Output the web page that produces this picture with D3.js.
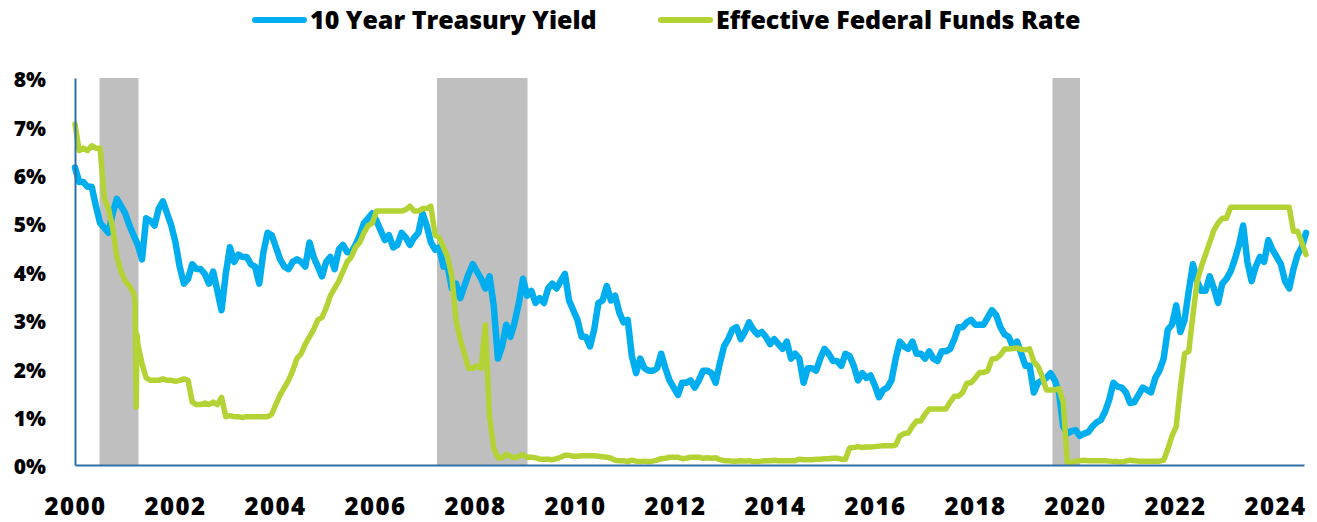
<!DOCTYPE html>
<html>
<head>
<meta charset="utf-8">
<script src="https://cdn.jsdelivr.net/npm/d3@7"></script>
<style>
  body { margin: 0; background: #fff; }
  text { font-family: "Open Sans", Lato, "DejaVu Sans", sans-serif; }
</style>
</head>
<body>
<div id="chart"></div>
<script>
// tick labels
const yearTicks = [2000, 2002, 2004, 2006, 2008, 2010, 2012, 2014, 2016, 2018, 2020, 2022, 2024];
const pctTicks = [0, 1, 2, 3, 4, 5, 6, 7, 8];

const seriesNames = ['10 Year Treasury Yield', 'Effective Federal Funds Rate'];

// monthly readings, one row per axis year (first row starts half way through 2000)
const treasury10y = [
  6.15, 5.85, 5.85, 5.75, 5.75, 5.35,
  5.0, 4.9, 4.8, 5.2, 5.5, 5.35, 5.2, 4.95, 4.75, 4.55, 4.25, 5.1,
  5.05, 4.95, 5.3, 5.45, 5.2, 4.95, 4.6, 4.1, 3.75, 3.85, 4.15, 4.05,
  4.05, 3.95, 3.75, 4.0, 3.6, 3.2, 3.95, 4.5, 4.2, 4.35, 4.3, 4.3,
  4.15, 4.1, 3.75, 4.4, 4.8, 4.75, 4.5, 4.25, 4.1, 4.05, 4.2, 4.25,
  4.2, 4.1, 4.6, 4.3, 4.1, 3.9, 4.2, 4.3, 4.05, 4.45, 4.55, 4.4,
  4.4, 4.55, 4.75, 5.0, 5.1, 5.2, 5.05, 4.85, 4.65, 4.75, 4.5, 4.55,
  4.8, 4.7, 4.55, 4.7, 4.8, 5.2, 4.95, 4.6, 4.45, 4.5, 4.1, 4.1,
  3.65, 3.75, 3.45, 3.7, 3.95, 4.15, 4.0, 3.85, 3.65, 3.9, 3.3, 2.2,
  2.45, 2.9, 2.65, 2.95, 3.35, 3.85, 3.5, 3.6, 3.35, 3.45, 3.35, 3.65,
  3.75, 3.65, 3.8, 3.95, 3.4, 3.2, 3.0, 2.65, 2.65, 2.45, 2.8, 3.35,
  3.4, 3.7, 3.4, 3.5, 3.15, 2.95, 3.0, 2.25, 1.9, 2.2, 2.0, 1.95,
  1.95, 2.0, 2.3, 2.0, 1.75, 1.6, 1.45, 1.7, 1.7, 1.75, 1.6, 1.75,
  1.95, 1.95, 1.9, 1.7, 2.1, 2.45, 2.6, 2.8, 2.85, 2.6, 2.75, 2.95,
  2.8, 2.7, 2.75, 2.65, 2.5, 2.6, 2.5, 2.4, 2.55, 2.2, 2.3, 2.2,
  1.7, 2.0, 2.0, 1.95, 2.2, 2.4, 2.3, 2.15, 2.15, 2.05, 2.3, 2.25,
  2.05, 1.75, 1.9, 1.8, 1.85, 1.65, 1.4, 1.55, 1.6, 1.75, 2.2, 2.55,
  2.45, 2.4, 2.55, 2.3, 2.3, 2.2, 2.35, 2.2, 2.15, 2.35, 2.35, 2.4,
  2.6, 2.85, 2.85, 2.95, 3.0, 2.9, 2.9, 2.9, 3.05, 3.2, 3.1, 2.85,
  2.7, 2.65, 2.45, 2.55, 2.3, 2.05, 2.05, 1.5, 1.7, 1.75, 1.8, 1.9,
  1.75, 1.5, 0.8, 0.65, 0.7, 0.72, 0.6, 0.65, 0.68, 0.8, 0.88, 0.93,
  1.1, 1.35, 1.7, 1.62, 1.6, 1.5, 1.28, 1.3, 1.45, 1.6, 1.55, 1.5,
  1.8, 1.95, 2.2, 2.8, 2.9, 3.3, 2.75, 3.0, 3.6, 4.15, 3.8, 3.6,
  3.6, 3.9, 3.65, 3.35, 3.75, 3.85, 4.0, 4.25, 4.55, 4.95, 4.2, 3.8,
  4.1, 4.3, 4.2, 4.65, 4.45, 4.3, 4.15, 3.8, 3.65, 4.05, 4.35, 4.5,
  4.8
];

const fedFunds = [
  7.05, 6.5, 6.55, 6.5, 6.6, 6.55,
  6.55, 5.5, 5.3, 4.9, 4.3, 4.0, 3.8, 3.7, 3.55, 2.5, 2.1, 1.8,
  1.75, 1.75, 1.75, 1.78, 1.75, 1.75, 1.73, 1.75, 1.78, 1.75, 1.3, 1.25,
  1.25, 1.28, 1.25, 1.3, 1.25, 1.4, 1.0, 1.02, 1.0, 1.0, 0.98, 1.0,
  1.0, 1.0, 1.0, 1.0, 1.0, 1.05, 1.26, 1.45, 1.6, 1.75, 1.95, 2.2,
  2.3, 2.5, 2.65, 2.8, 3.0, 3.05, 3.25, 3.5, 3.65, 3.8, 4.0, 4.2,
  4.3, 4.5, 4.6, 4.8, 4.95, 5.0, 5.25, 5.25, 5.25, 5.25, 5.25, 5.25,
  5.25, 5.28, 5.35, 5.25, 5.25, 5.3, 5.3, 5.35, 4.75, 4.7, 4.5, 4.3,
  3.9, 3.0, 2.6, 2.3, 2.0, 2.0, 2.05, 2.0, 2.9, 1.0, 0.35, 0.15,
  0.15, 0.22, 0.18, 0.15, 0.18, 0.21, 0.16, 0.16, 0.15, 0.12, 0.12, 0.12,
  0.11, 0.13, 0.16, 0.2, 0.2, 0.18, 0.18, 0.19, 0.19, 0.19, 0.19, 0.18,
  0.17, 0.16, 0.14, 0.1, 0.09, 0.09, 0.07, 0.1, 0.08, 0.07, 0.08, 0.07,
  0.08, 0.1, 0.13, 0.14, 0.16, 0.16, 0.16, 0.13, 0.14, 0.16, 0.16, 0.16,
  0.14, 0.15, 0.14, 0.15, 0.11, 0.09, 0.09, 0.08, 0.08, 0.09, 0.08, 0.09,
  0.07, 0.07, 0.08, 0.09, 0.09, 0.1, 0.09, 0.09, 0.09, 0.09, 0.09, 0.12,
  0.11, 0.11, 0.11, 0.12, 0.12, 0.13, 0.13, 0.14, 0.14, 0.12, 0.12, 0.35,
  0.36, 0.38, 0.36, 0.37, 0.37, 0.38, 0.39, 0.4, 0.4, 0.4, 0.41, 0.6,
  0.65, 0.66, 0.8, 0.91, 0.91, 1.05, 1.16, 1.16, 1.16, 1.16, 1.16, 1.3,
  1.42, 1.42, 1.5, 1.69, 1.7, 1.8, 1.91, 1.91, 1.95, 2.19, 2.2, 2.27,
  2.4, 2.4, 2.41, 2.42, 2.39, 2.38, 2.4, 2.13, 2.04, 1.83, 1.55, 1.55,
  1.55, 1.58, 1.3, 0.05, 0.05, 0.08, 0.09, 0.1, 0.09, 0.09, 0.09, 0.09,
  0.09, 0.08, 0.07, 0.07, 0.06, 0.08, 0.1, 0.09, 0.08, 0.08, 0.08, 0.08,
  0.08, 0.08, 0.1, 0.33, 0.6, 0.8, 1.6, 2.3, 2.35, 3.1, 3.8, 4.1,
  4.35, 4.6, 4.85, 5.0, 5.1, 5.1, 5.33, 5.33, 5.33, 5.33, 5.33, 5.33,
  5.33, 5.33, 5.33, 5.33, 5.33, 5.33, 5.33, 5.33, 5.33, 4.83, 4.83, 4.6,
  4.35
];

// short daily dip of the funds rate in 2001 (axis year, %)
const fedDailyDip = [[2001.2, 3.4], [2001.225, 1.2], [2001.24, 2.7]];

// shaded recession bands (axis years)
const recessions = [[2000.49, 2001.27], [2007.24, 2009.05], [2019.55, 2020.1]];

const W = 1317, H = 522;
const mLeft = 75, mRight = 1304, mTop = 78, mBottom = 465;
const blue = '#00aeef', green = '#b3d335', axisCol = '#2f6fa7', shade = '#bfbfbf';

const svg = d3.select('#chart').append('svg')
  .attr('width', W)
  .attr('height', H);

const x = d3.scaleLinear().domain([2000, 2024.58]).range([mLeft, mRight]);
const y = d3.scaleLinear().domain([0, 8]).range([mBottom, mTop]);

// monthly readings are spread evenly from the start of the axis to the last reading
const lastT = 2024.62;
const toPoints = arr => arr.map((v, i) => [2000 + i * (lastT - 2000) / (arr.length - 1), v]);

const tsyPts = toPoints(treasury10y);
const fedPts = toPoints(fedFunds).concat(fedDailyDip).sort((a, b) => a[0] - b[0]);

svg.selectAll('rect.rec')
  .data(recessions)
  .enter()
  .append('rect')
  .attr('class', 'rec')
  .attr('x', d => x(d[0]))
  .attr('width', d => x(d[1]) - x(d[0]))
  .attr('y', y(8))
  .attr('height', y(0) - y(8))
  .attr('fill', shade);

const line = d3.line()
  .x(d => x(d[0]))
  .y(d => y(d[1]));

svg.append('path')
  .datum(tsyPts)
  .attr('d', line)
  .attr('fill', 'none')
  .attr('stroke', blue)
  .attr('stroke-width', 6.5)
  .attr('stroke-linejoin', 'round')
  .attr('stroke-linecap', 'round');

svg.append('path')
  .datum(fedPts)
  .attr('d', line)
  .attr('fill', 'none')
  .attr('stroke', green)
  .attr('stroke-width', 5.5)
  .attr('stroke-linejoin', 'round')
  .attr('stroke-linecap', 'round');

// axes
const xAxis = d3.axisBottom(x)
  .tickValues(yearTicks)
  .tickFormat(d3.format('d'))
  .tickSize(0)
  .tickSizeOuter(0)
  .tickPadding(33);

const gx = svg.append('g')
  .attr('transform', 'translate(0,' + mBottom + ')')
  .call(xAxis);

gx.select('.domain').attr('stroke', axisCol).attr('stroke-width', 2);
gx.selectAll('text')
  .attr('fill', '#000')
  .style('font-size', '24px')
  .style('font-weight', 800)
  .style('letter-spacing', '1.5px');

const yAxis = d3.axisLeft(y)
  .tickValues(pctTicks)
  .tickFormat(d => d + '%')
  .tickSize(0)
  .tickSizeOuter(0)
  .tickPadding(29);

const gy = svg.append('g')
  .attr('transform', 'translate(' + mLeft + ',0)')
  .call(yAxis);

gy.select('.domain').attr('stroke', axisCol).attr('stroke-width', 2);
gy.selectAll('text')
  .attr('fill', '#000')
  .attr('dy', '0.42em')
  .style('font-size', '21px')
  .style('font-weight', 800);

// legend
const legendX = [252, 658];
const legendCols = [blue, green];
const lg = svg.selectAll('g.leg')
  .data(seriesNames)
  .enter()
  .append('g')
  .attr('class', 'leg')
  .attr('transform', (d, i) => 'translate(' + legendX[i] + ',20)');

lg.append('line')
  .attr('x1', 3).attr('x2', 52)
  .attr('stroke', (d, i) => legendCols[i])
  .attr('stroke-width', 6)
  .attr('stroke-linecap', 'round');

lg.append('text')
  .attr('x', 58)
  .attr('y', 9)
  .style('font-size', '25px')
  .style('font-weight', 800)
  .text(d => d);
</script>
</body>
</html>
